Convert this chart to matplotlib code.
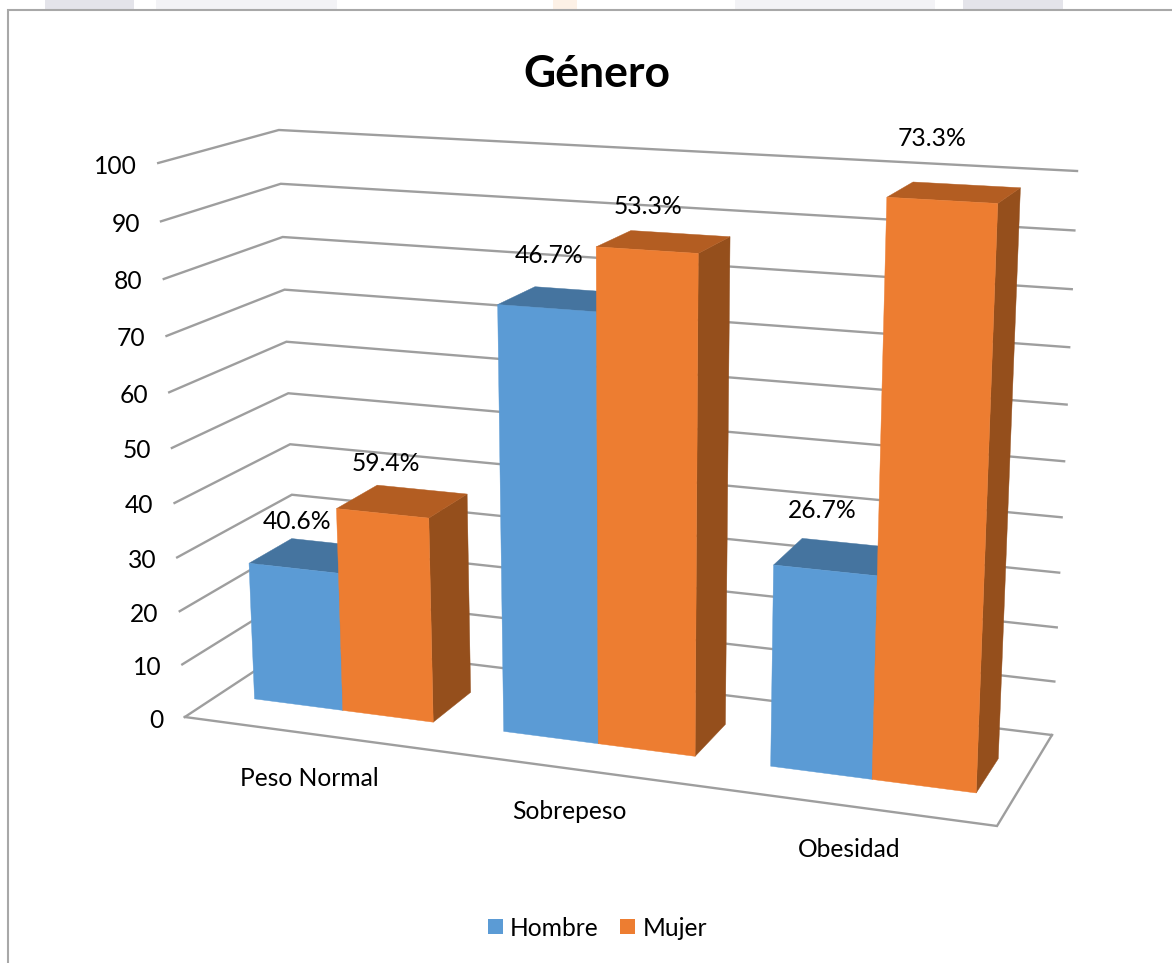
import numpy as np
import matplotlib
matplotlib.use('Agg')
import matplotlib.pyplot as plt
from matplotlib.patches import Polygon, Rectangle

plt.rcParams['font.family'] = ['Lato', 'DejaVu Sans']

# ==========================================
# Data
# ==========================================
categories = ['Peso Normal', 'Sobrepeso', 'Obesidad']
hombre = [26, 77, 36]
mujer = [38, 88, 99]
y_ticks = [0, 10, 20, 30, 40, 50, 60, 70, 80, 90, 100]
series_names = ['Hombre', 'Mujer']

# ==========================================
# Colours and layout
# ==========================================
W, H = 1172, 963
LINE = '#9e9e9e'
BLUE = {'front': '#5b9bd5', 'top': '#45749f', 'side': '#3f6f9a'}
ORANGE = {'front': '#ed7d31', 'top': '#b35d22', 'side': '#954f1c'}

BAR_OFFSET = 0.147
BAR_WIDTH = 0.362
DEPTH_FRONT = 0.29
DEPTH_BACK = 0.67
FONT = 17.7

# label nudges in pixels, from the top front edge of each bar
hombre_nudge = [(4, -47), (2, -53), (-3, -60)]
mujer_nudge = [(4, -50), (1, -44), (-10, -62)]
category_nudge = [(1, 45), (0, 43), (0, 43)]

# corners of the chart box: (category, value, depth) -> pixel
box_world = [(0, 0, 0), (0, 100, 0), (0, 100, 1), (0, 0, 1), (3, 100, 1), (3, 0, 1), (3, 0, 0)]
box_pixel = [(185, 717), (158, 163), (279, 130), (297, 643), (1077, 171), (1052, 735), (997, 826)]


def fit_camera(world, pixel):
    # direct linear transform for the 3x4 projection
    rows = []
    for (x, y, z), (u, v) in zip(world, pixel):
        p = [x, y / 100, z, 1]
        u, v = u / 1000, v / 1000
        rows.append(p + [0, 0, 0, 0] + [-u * c for c in p])
        rows.append([0, 0, 0, 0] + p + [-v * c for c in p])
    _, _, vt = np.linalg.svd(np.array(rows))
    return vt[-1].reshape(3, 4)


camera = fit_camera(box_world, box_pixel)


def project(x, y, z):
    q = camera @ np.array([x, y / 100, z, 1])
    return q[0] / q[2] * 1000, q[1] / q[2] * 1000


fig = plt.figure(figsize=(W / 100, H / 100), dpi=100)
ax = fig.add_axes([0, 0, 1, 1])
ax.set_xlim(0, W)
ax.set_ylim(H, 0)
ax.axis('off')

# faint page marks above the chart frame
for x0, x1, c in [(45, 134, '#e4e4ea'), (156, 337, '#f3f3f6'), (553, 577, '#fdf1e6'),
                  (735, 935, '#f3f3f6'), (963, 1063, '#e4e4ea')]:
    ax.add_patch(Rectangle((x0, 0), x1 - x0, 9, fc=c, ec='none'))

# chart frame
ax.plot([8, 8, W], [H, 10, 10], color='#a8a8a8', lw=1.5, solid_joinstyle='miter')

# gridlines on the side wall and the back wall
for t in y_ticks:
    pts = [project(0, t, 0), project(0, t, 1), project(3, t, 1)]
    ax.plot(*zip(*pts), color=LINE, lw=1.7, solid_joinstyle='miter', zorder=1)

# floor
floor = [project(0, 0, 0), project(3, 0, 0), project(3, 0, 1)]
ax.plot(*zip(*floor), color=LINE, lw=1.7, solid_joinstyle='miter', zorder=1)

for t in y_ticks:
    px, py = project(0, t, 0)
    ax.text(px - 21, py + 3, str(t), ha='right', va='center', fontsize=FONT, color='black', zorder=5)


def draw_bar(x0, x1, value, colors):
    z0, z1 = DEPTH_FRONT, DEPTH_BACK
    faces = {
        'side': [(x1, 0, z0), (x1, 0, z1), (x1, value, z1), (x1, value, z0)],
        'top': [(x0, value, z0), (x1, value, z0), (x1, value, z1), (x0, value, z1)],
        'front': [(x0, 0, z0), (x1, 0, z0), (x1, value, z0), (x0, value, z0)],
    }
    for name, corners in faces.items():
        ax.add_patch(Polygon([project(*c) for c in corners], closed=True, fc=colors[name],
                             ec=colors[name], lw=0.3, zorder=2))


# bars, with the labels as each series' share of its category
for i, name in enumerate(categories):
    total = hombre[i] + mujer[i]
    left = i + BAR_OFFSET
    mid = left + BAR_WIDTH
    right = mid + BAR_WIDTH
    draw_bar(left, mid, hombre[i], BLUE)
    draw_bar(mid, right, mujer[i], ORANGE)

    px, py = project((left + mid) / 2, hombre[i], DEPTH_FRONT)
    ax.text(px + hombre_nudge[i][0], py + hombre_nudge[i][1], f'{hombre[i] / total * 100:.1f}%',
            ha='center', va='center', fontsize=FONT, color='black', zorder=6)
    px, py = project((mid + right) / 2, mujer[i], DEPTH_FRONT)
    ax.text(px + mujer_nudge[i][0], py + mujer_nudge[i][1], f'{mujer[i] / total * 100:.1f}%',
            ha='center', va='center', fontsize=FONT, color='black', zorder=6)

    px, py = project(i + 0.5, 0, 0)
    ax.text(px + category_nudge[i][0], py + category_nudge[i][1], name,
            ha='center', va='center', fontsize=FONT, color='black', zorder=6)

ax.text(597, 74, 'Género', ha='center', va='center', fontsize=32, fontweight='bold', color='black')

# legend
for x0, x_text, label, c in [(488, 510, series_names[0], BLUE['front']), (620, 643, series_names[1], ORANGE['front'])]:
    ax.add_patch(Rectangle((x0, 919), 15, 15, fc=c, ec='none'))
    ax.text(x_text, 928, label, ha='left', va='center', fontsize=FONT, color='black')

fig.savefig('out.png', dpi=100)
